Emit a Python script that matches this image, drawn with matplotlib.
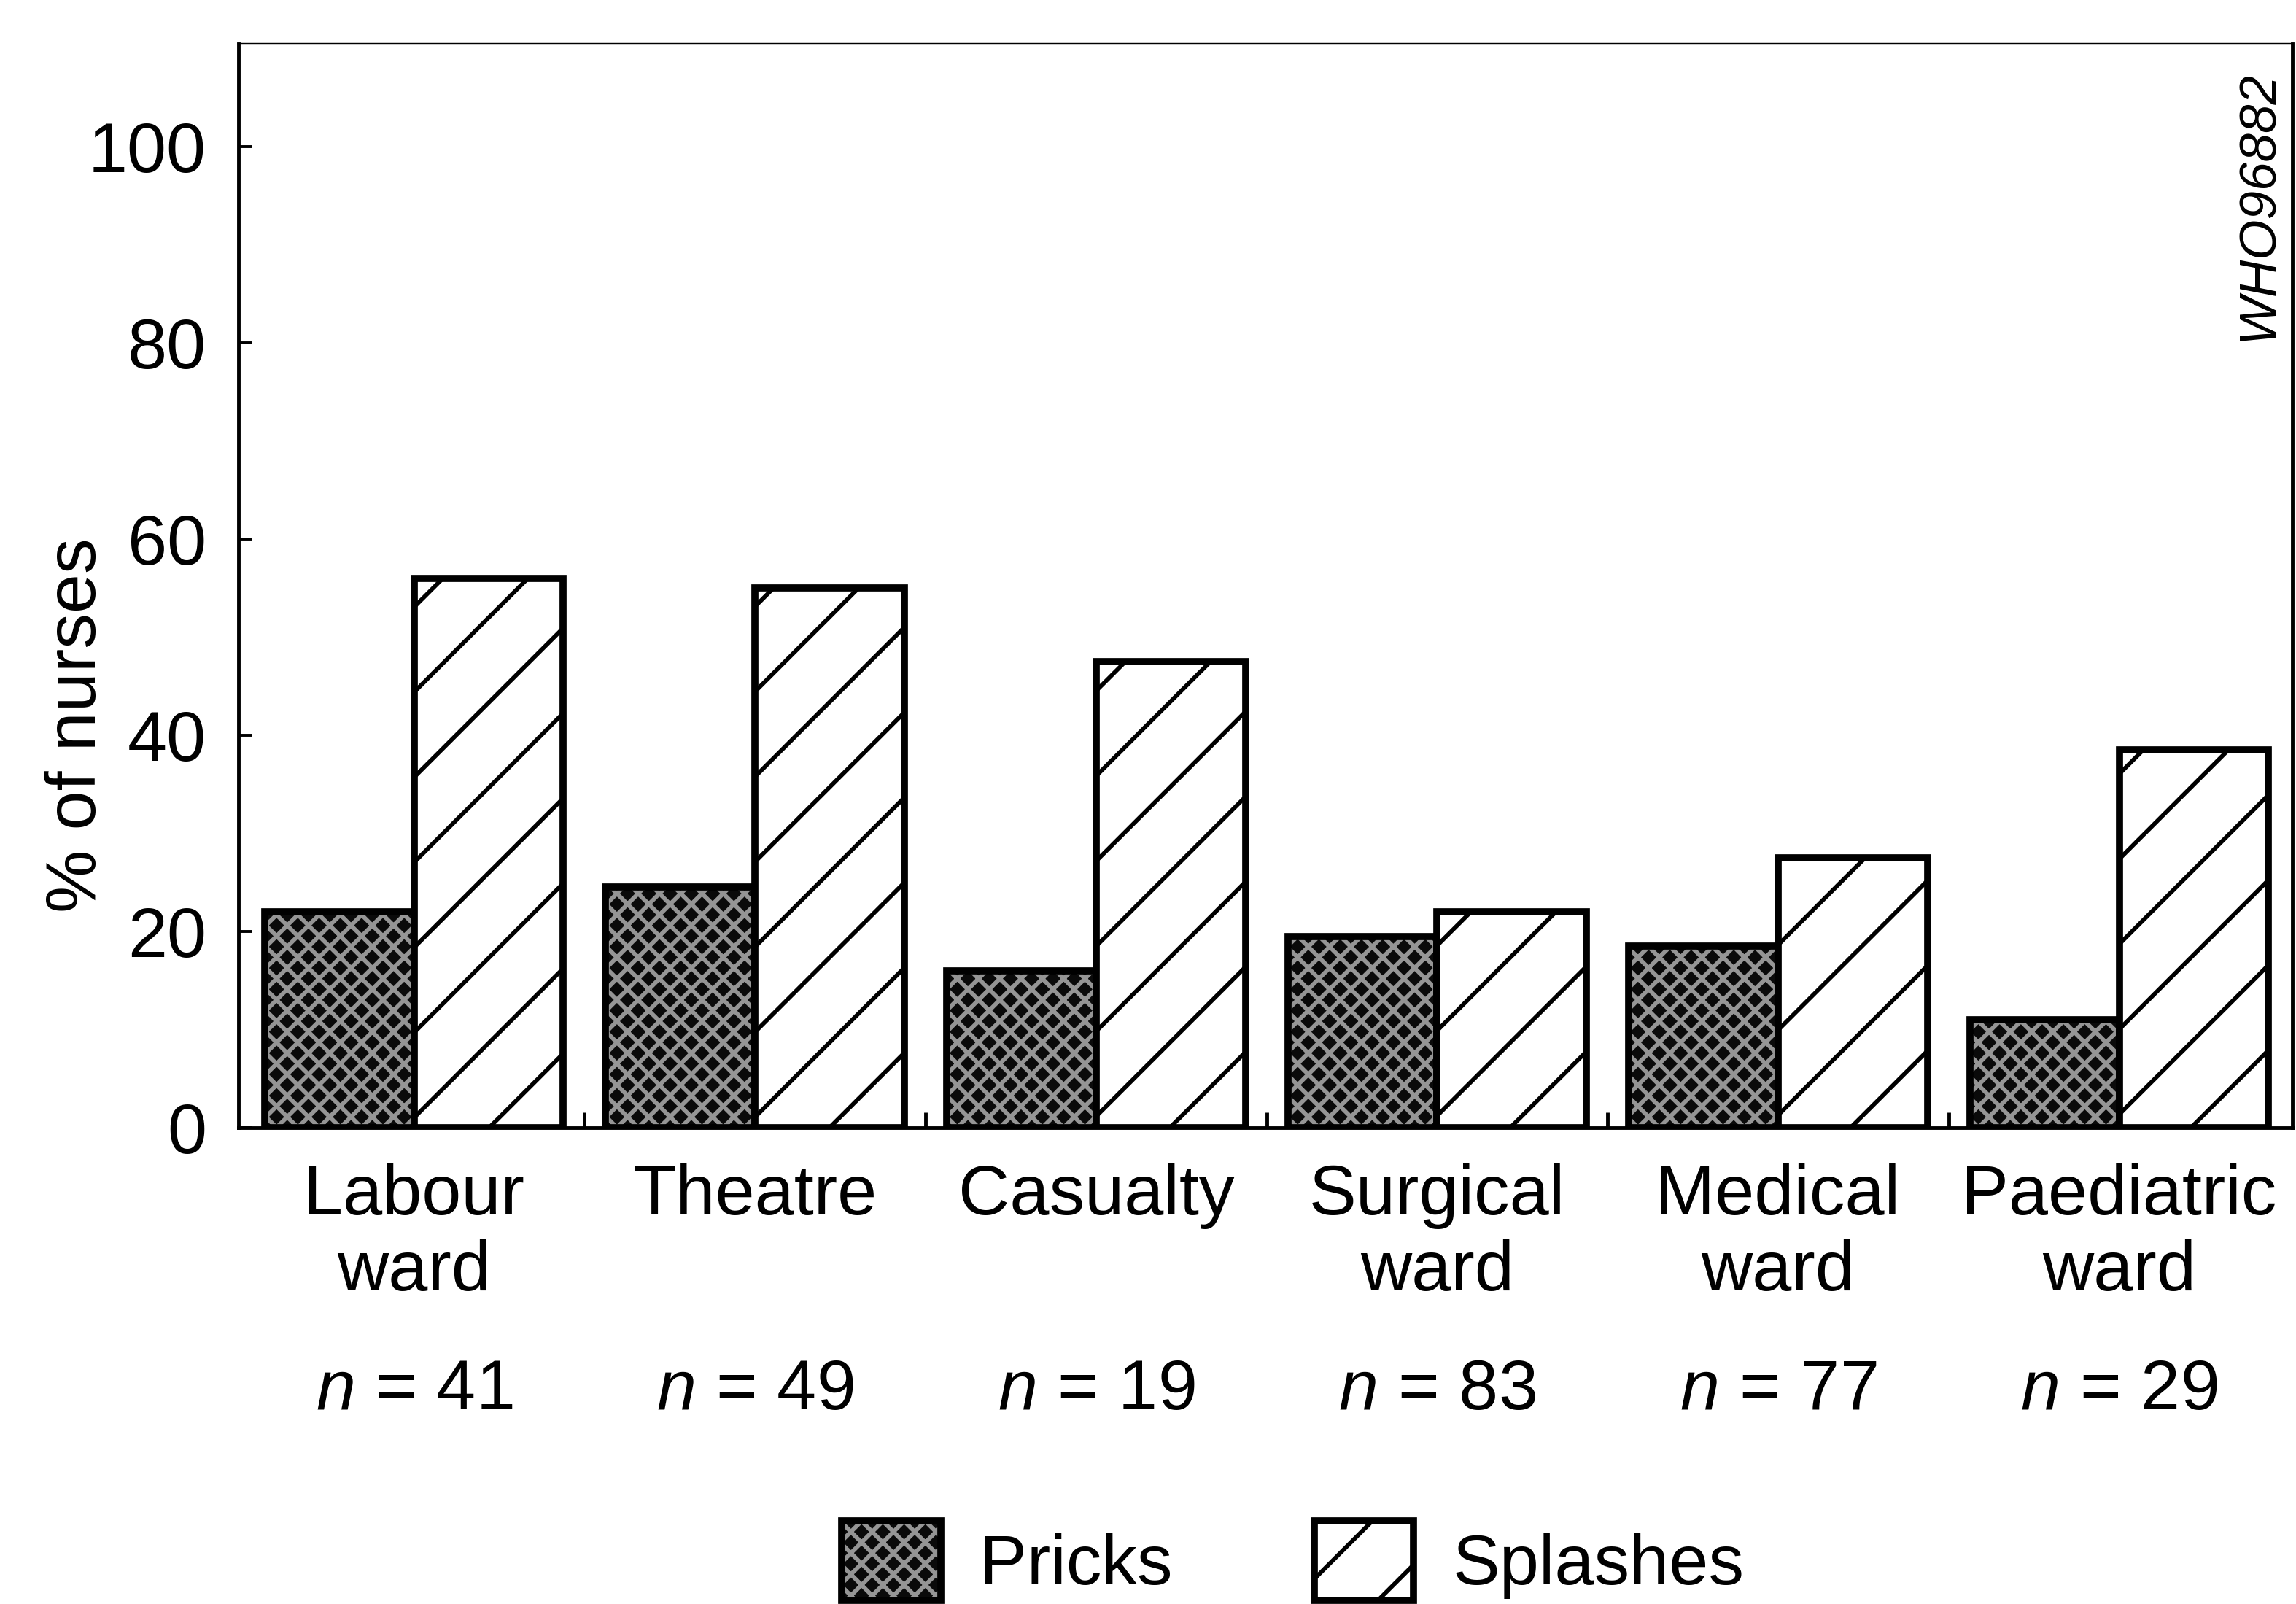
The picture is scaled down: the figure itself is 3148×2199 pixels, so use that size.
import numpy as np
import matplotlib
matplotlib.use('Agg')
import matplotlib.pyplot as plt
from matplotlib import font_manager
from matplotlib.patches import Patch

#Data
wards = ['Labour\nward', 'Theatre', 'Casualty', 'Surgical\nward', 'Medical\nward', 'Paediatric\nward']
n_nurses = [41, 49, 19, 83, 77, 29]
pricks = [22, 24.5, 16, 19.5, 18.5, 11]
splashes = [56, 55, 47.5, 22, 27.5, 38.5]
y_ticks = [0, 20, 40, 60, 80, 100]

#Fonts / style (condensed face for the labels if it is there)
names = {f.name for f in font_manager.fontManager.ttflist}
if 'Liberation Sans Narrow' in names:
    label_font, label_size = 'Liberation Sans Narrow', 11
else:
    label_font, label_size = 'Liberation Sans', 10

plt.rcParams['font.family'] = ['Liberation Sans', 'DejaVu Sans']
plt.rcParams['mathtext.fontset'] = 'custom'
plt.rcParams['mathtext.it'] = label_font + ':italic'
plt.rcParams['mathtext.rm'] = label_font
plt.rcParams['hatch.linewidth'] = 0.6

# high dpi so the hatch tile (1 inch) gets the wide spacing of the original
fig = plt.figure(figsize=(3149 / 700, 2199 / 700), dpi=700)
ax = fig.add_axes([0.1038, 0.297, 0.8942, 0.6757])

x = np.arange(len(wards))
w = 0.438
prick_hatch = 'x' * 8
prick_grey = '#959595'

#Pricks: dark base + grey crosshatch + black outline
ax.bar(x - w / 2, pricks, w, color='#0a0a0a', linewidth=0)
ax.bar(x - w / 2, pricks, w, facecolor='none', edgecolor=prick_grey, hatch=prick_hatch, linewidth=0)
ax.bar(x - w / 2, pricks, w, facecolor='none', edgecolor='black', linewidth=1.0)

#Splashes: white with diagonal hatch
ax.bar(x + w / 2, splashes, w, facecolor='white', edgecolor='black', hatch='//', linewidth=1.0)

#axes formatting
ax.set_xlim(-0.515, 5.507)
ax.set_ylim(0, 110.5)
ax.set_yticks(y_ticks)
ax.tick_params(axis='y', direction='in', length=1.9, width=0.4, labelsize=10, pad=4.5)
ax.set_xticks(x)
ax.set_xticklabels(wards, fontsize=label_size, family=label_font, linespacing=1.21)
ax.tick_params(axis='x', length=0, pad=5)
ax.set_xticks(x[:-1] + 0.5, minor=True)
ax.tick_params(axis='x', which='minor', direction='in', length=2.2, width=0.5)

for side in ['left', 'bottom', 'right']:
    ax.spines[side].set_linewidth(0.5)
ax.spines['top'].set_linewidth(0.25)

ax.set_ylabel('% of nurses', fontsize=label_size, family=label_font)
ax.yaxis.set_label_coords(-0.0625, 0.371)

#n = ... labels under each ward
for i, n in enumerate(n_nurses):
    ax.text(x[i], -0.243, r'$\it{n}$ = %d' % n, transform=ax.get_xaxis_transform(),
            ha='center', va='center', fontsize=label_size, family=label_font)

#figure code in the corner
ax.text(0.984, 0.851, 'WHO96882', transform=ax.transAxes, rotation=90,
        ha='center', va='center', fontsize=7.3, style='italic')

#legend
h_pricks = (Patch(facecolor='#0a0a0a', linewidth=0),
            Patch(facecolor='none', edgecolor=prick_grey, hatch=prick_hatch, linewidth=0),
            Patch(facecolor='none', edgecolor='black', linewidth=1.0))
h_splashes = Patch(facecolor='white', edgecolor='black', hatch='//', linewidth=1.0)
fig.legend([h_pricks, h_splashes], ['Pricks', 'Splashes'], loc='center',
           bbox_to_anchor=(0.563, 0.027), ncol=2, frameon=False,
           prop={'family': label_font, 'size': label_size},
           handlelength=1.4, handleheight=1.35, handletextpad=0.55, columnspacing=2.0)

plt.savefig('out.png', dpi=700)
